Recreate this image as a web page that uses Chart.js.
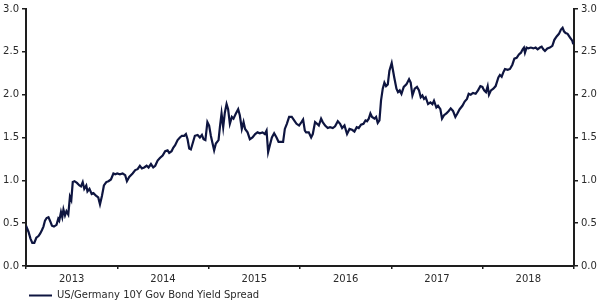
<!DOCTYPE html>
<html>
<head>
<meta charset="utf-8">
<script src="https://cdn.jsdelivr.net/npm/chart.js@4"></script>
<style>
  html, body { margin: 0; padding: 0; background: #ffffff; }
  #wrap { width: 602px; height: 303px; position: relative; }
</style>
</head>
<body>
<div id="wrap"><canvas id="c" width="602" height="303"></canvas></div>
<script>
// ---- Data ----
const seriesLabel = "US/Germany 10Y Gov Bond Yield Spread";
const yearLabels = ["2013", "2014", "2015", "2016", "2017", "2018"];
const yTicks = [0, 0.5, 1.0, 1.5, 2.0, 2.5, 3.0];

// decimal-year dates
const dates = [
  2013.000, 2013.027, 2013.049, 2013.069, 2013.091, 2013.113, 2013.137, 2013.156, 2013.175, 2013.191,
  2013.208, 2013.226, 2013.246, 2013.266, 2013.284, 2013.306, 2013.334, 2013.353, 2013.364, 2013.383,
  2013.397, 2013.410, 2013.427, 2013.443, 2013.463, 2013.481, 2013.496, 2013.512, 2013.531, 2013.558,
  2013.585, 2013.602, 2013.621, 2013.638, 2013.660, 2013.673, 2013.695, 2013.719, 2013.739, 2013.766,
  2013.791, 2013.810, 2013.832, 2013.853, 2013.879, 2013.903, 2013.930, 2013.957, 2013.977, 2013.999,
  2014.028, 2014.058, 2014.086, 2014.105, 2014.130, 2014.167, 2014.196, 2014.222, 2014.247, 2014.269,
  2014.294, 2014.321, 2014.342, 2014.368, 2014.393, 2014.415, 2014.441, 2014.466, 2014.496, 2014.524,
  2014.550, 2014.568, 2014.594, 2014.612, 2014.633, 2014.660, 2014.685, 2014.707, 2014.732, 2014.751,
  2014.769, 2014.787, 2014.805, 2014.830, 2014.849, 2014.879, 2014.904, 2014.926, 2014.944, 2014.964,
  2014.986, 2015.005, 2015.024, 2015.041, 2015.060, 2015.079, 2015.108, 2015.123, 2015.141, 2015.159,
  2015.177, 2015.196, 2015.213, 2015.232, 2015.254, 2015.272, 2015.298, 2015.323, 2015.341, 2015.363,
  2015.382, 2015.399, 2015.426, 2015.451, 2015.480, 2015.509, 2015.535, 2015.560, 2015.590, 2015.615,
  2015.634, 2015.651, 2015.670, 2015.692, 2015.717, 2015.743, 2015.765, 2015.790, 2015.815, 2015.834,
  2015.856, 2015.881, 2015.910, 2015.936, 2015.962, 2015.990, 2016.016, 2016.034, 2016.053, 2016.067,
  2016.096, 2016.122, 2016.140, 2016.165, 2016.187, 2016.206, 2016.231, 2016.249, 2016.275, 2016.304,
  2016.329, 2016.359, 2016.384, 2016.414, 2016.439, 2016.461, 2016.487, 2016.515, 2016.542, 2016.570,
  2016.596, 2016.621, 2016.643, 2016.668, 2016.695, 2016.717, 2016.734, 2016.753, 2016.771, 2016.789,
  2016.815, 2016.833, 2016.851, 2016.870, 2016.887, 2016.906, 2016.924, 2016.942, 2016.961, 2016.979,
  2017.004, 2017.032, 2017.056, 2017.073, 2017.092, 2017.111, 2017.136, 2017.165, 2017.194, 2017.212,
  2017.231, 2017.256, 2017.281, 2017.303, 2017.322, 2017.340, 2017.358, 2017.376, 2017.402, 2017.428,
  2017.450, 2017.467, 2017.493, 2017.511, 2017.537, 2017.555, 2017.577, 2017.603, 2017.628, 2017.650,
  2017.675, 2017.701, 2017.723, 2017.748, 2017.778, 2017.803, 2017.828, 2017.847, 2017.869, 2017.894,
  2017.923, 2017.949, 2017.975, 2017.997, 2018.016, 2018.036, 2018.055, 2018.069, 2018.091, 2018.117,
  2018.142, 2018.172, 2018.189, 2018.208, 2018.226, 2018.244, 2018.274, 2018.299, 2018.325, 2018.347,
  2018.372, 2018.397, 2018.419, 2018.438, 2018.452, 2018.463, 2018.481, 2018.500, 2018.528, 2018.555,
  2018.580, 2018.602, 2018.627, 2018.646, 2018.664, 2018.682, 2018.708, 2018.736, 2018.763, 2018.785,
  2018.810, 2018.835, 2018.857, 2018.875, 2018.890, 2018.908, 2018.930, 2018.955, 2018.981, 2018.992
];

// spread, percentage points
const spread = [
  0.47, 0.40, 0.32, 0.27, 0.27, 0.33, 0.35, 0.38, 0.42, 0.46,
  0.53, 0.56, 0.57, 0.52, 0.47, 0.46, 0.48, 0.55, 0.53, 0.63,
  0.57, 0.66, 0.59, 0.64, 0.60, 0.81, 0.77, 0.98, 0.99, 0.97,
  0.94, 0.93, 0.98, 0.90, 0.94, 0.87, 0.90, 0.84, 0.85, 0.82,
  0.80, 0.72, 0.82, 0.94, 0.98, 0.99, 1.01, 1.08, 1.07, 1.08,
  1.07, 1.08, 1.06, 0.99, 1.04, 1.08, 1.12, 1.13, 1.17, 1.14,
  1.15, 1.17, 1.15, 1.19, 1.15, 1.17, 1.23, 1.26, 1.29, 1.34,
  1.35, 1.32, 1.34, 1.38, 1.41, 1.47, 1.50, 1.52, 1.52, 1.54,
  1.48, 1.37, 1.36, 1.45, 1.52, 1.53, 1.50, 1.53, 1.48, 1.47,
  1.68, 1.64, 1.52, 1.44, 1.35, 1.43, 1.47, 1.62, 1.78, 1.62,
  1.79, 1.89, 1.83, 1.66, 1.74, 1.72, 1.78, 1.83, 1.76, 1.60,
  1.68, 1.60, 1.56, 1.48, 1.50, 1.54, 1.56, 1.55, 1.56, 1.54,
  1.58, 1.33, 1.41, 1.50, 1.55, 1.50, 1.45, 1.45, 1.45, 1.60,
  1.66, 1.74, 1.74, 1.70, 1.66, 1.64, 1.68, 1.71, 1.58, 1.56,
  1.56, 1.50, 1.54, 1.68, 1.66, 1.64, 1.72, 1.68, 1.64, 1.61,
  1.62, 1.61, 1.63, 1.69, 1.66, 1.61, 1.64, 1.54, 1.60, 1.59,
  1.57, 1.62, 1.61, 1.65, 1.66, 1.70, 1.69, 1.72, 1.78, 1.74,
  1.72, 1.74, 1.67, 1.70, 1.93, 2.07, 2.14, 2.10, 2.12, 2.28,
  2.37, 2.20, 2.07, 2.03, 2.05, 2.01, 2.09, 2.12, 2.18, 2.14,
  1.99, 2.07, 2.09, 2.05, 1.97, 1.99, 1.95, 1.97, 1.89, 1.91,
  1.89, 1.93, 1.85, 1.87, 1.83, 1.72, 1.76, 1.78, 1.81, 1.84,
  1.81, 1.74, 1.78, 1.83, 1.87, 1.92, 1.95, 2.01, 2.00, 2.02,
  2.01, 2.05, 2.10, 2.09, 2.05, 2.03, 2.10, 2.00, 2.05, 2.07,
  2.10, 2.20, 2.23, 2.21, 2.26, 2.30, 2.29, 2.30, 2.35, 2.42,
  2.43, 2.47, 2.49, 2.53, 2.55, 2.49, 2.55, 2.54, 2.55, 2.54,
  2.55, 2.53, 2.55, 2.56, 2.53, 2.51, 2.54, 2.55, 2.57, 2.64,
  2.68, 2.71, 2.76, 2.78, 2.74, 2.72, 2.71, 2.67, 2.63, 2.59
];

// ---- Styles ----
const LINE_COLOR = '#0e1540';
const AXIS_COLOR = '#1e1e1e';
const TEXT_COLOR = '#2a2a2a';
const FONT_FAMILY = "'DejaVu Sans', Verdana, sans-serif";

const points = dates.map((d, i) => ({ x: d, y: spread[i] }));

const legendPlugin = {
  id: 'customLegend',
  afterDraw(chart) {
    const ctx = chart.ctx;
    const ds = chart.data.datasets[0];
    const y = 295.5;
    ctx.save();
    ctx.strokeStyle = ds.borderColor;
    ctx.lineWidth = 2;
    ctx.beginPath();
    ctx.moveTo(29, y);
    ctx.lineTo(52, y);
    ctx.stroke();
    ctx.fillStyle = TEXT_COLOR;
    ctx.font = "10px " + FONT_FAMILY;
    ctx.textBaseline = 'middle';
    ctx.textAlign = 'left';
    ctx.fillText(ds.label, 57, y);
    ctx.restore();
  }
};

const yTickCommon = {
  color: TEXT_COLOR,
  font: { family: FONT_FAMILY, size: 10 },
  padding: 3,
  callback: v => Number(v).toFixed(1)
};

new Chart(document.getElementById('c'), {
  type: 'line',
  data: {
    datasets: [{
      label: seriesLabel,
      data: points,
      borderColor: LINE_COLOR,
      borderWidth: 2.2,
      pointRadius: 0,
      tension: 0,
      fill: false
    }]
  },
  options: {
    responsive: false,
    animation: false,
    devicePixelRatio: 1,
    layout: { padding: { top: 8, bottom: 18, left: 0, right: 0 } },
    plugins: {
      legend: { display: false },
      tooltip: { enabled: false }
    },
    scales: {
      x: {
        type: 'linear',
        min: 2013,
        max: 2019,
        afterBuildTicks: scale => {
          const t = [];
          for (let yr = 2013; yr <= 2019; yr++) {
            t.push({ value: yr });
            if (yr < 2019) t.push({ value: yr + 0.5 });
          }
          scale.ticks = t;
        },
        afterFit: scale => { scale.height = 19; },
        ticks: {
          autoSkip: false,
          maxRotation: 0,
          color: TEXT_COLOR,
          font: { family: FONT_FAMILY, size: 10 },
          padding: 4,
          callback: v => {
            const frac = v - Math.floor(v);
            if (Math.abs(frac - 0.5) < 1e-6) {
              const idx = Math.floor(v) - 2013;
              return yearLabels[idx] || '';
            }
            return '';
          }
        },
        grid: {
          display: true,
          drawOnChartArea: false,
          drawTicks: true,
          tickLength: 3,
          lineWidth: 1.5,
          color: c => (c.tick && Math.abs(c.tick.value % 1) < 1e-6) ? AXIS_COLOR : 'rgba(0,0,0,0)'
        },
        border: { display: true, color: AXIS_COLOR, width: 2 }
      },
      y: {
        type: 'linear',
        position: 'left',
        min: 0,
        max: 3,
        afterBuildTicks: scale => { scale.ticks = yTicks.map(v => ({ value: v })); },
        afterFit: scale => { scale.width = 26; },
        ticks: yTickCommon,
        grid: {
          display: true,
          drawOnChartArea: false,
          drawTicks: true,
          tickLength: 4,
          lineWidth: 1.5,
          color: AXIS_COLOR
        },
        border: { display: true, color: AXIS_COLOR, width: 2 }
      },
      y2: {
        type: 'linear',
        position: 'right',
        min: 0,
        max: 3,
        afterBuildTicks: scale => { scale.ticks = yTicks.map(v => ({ value: v })); },
        afterFit: scale => { scale.width = 28; },
        ticks: yTickCommon,
        grid: {
          display: true,
          drawOnChartArea: false,
          drawTicks: true,
          tickLength: 4,
          lineWidth: 1.5,
          color: AXIS_COLOR
        },
        border: { display: true, color: AXIS_COLOR, width: 2 }
      }
    }
  },
  plugins: [legendPlugin]
});
</script>
</body>
</html>
